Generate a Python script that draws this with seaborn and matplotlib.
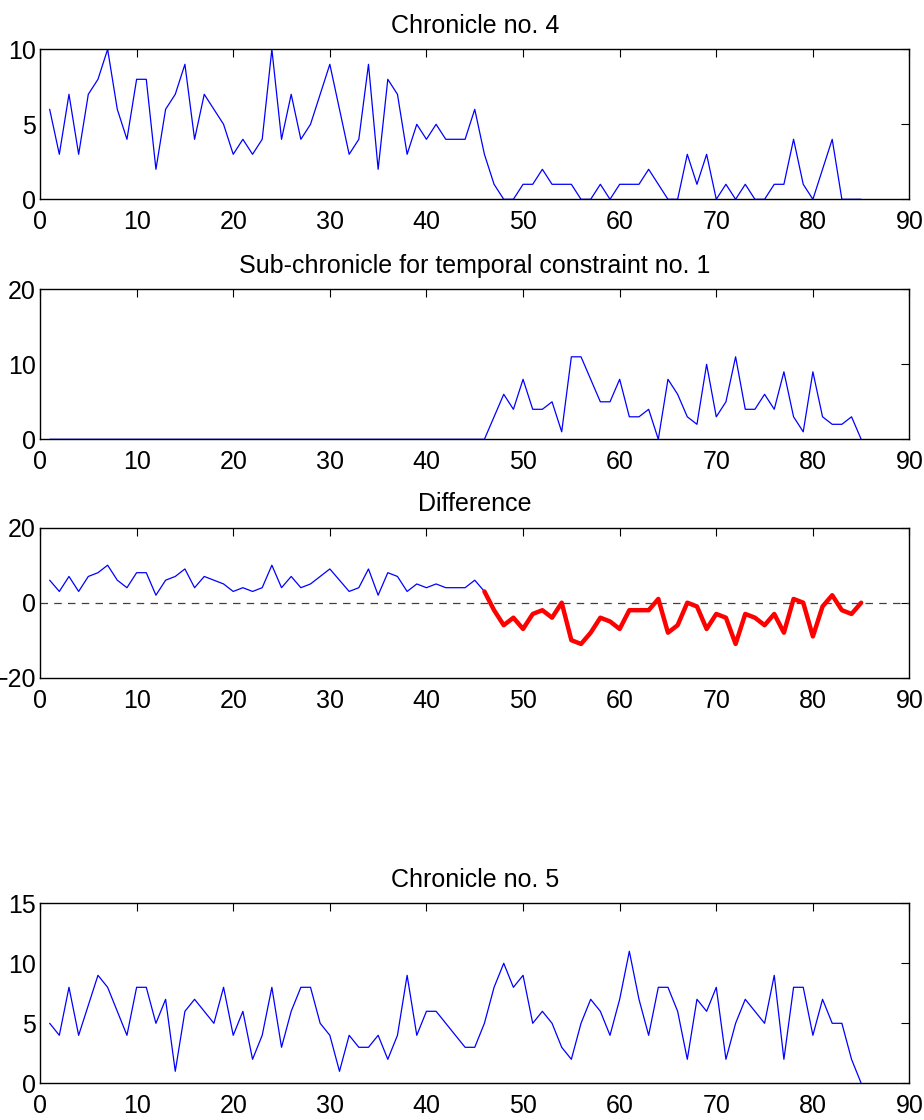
import numpy as np
import pandas as pd
import matplotlib
matplotlib.use("Agg")
import matplotlib.pyplot as plt
import seaborn as sns

sns.set_style("white")
plt.rcParams['font.family'] = ['Liberation Sans', 'DejaVu Sans']
plt.rcParams['text.color'] = 'black'
plt.rcParams['axes.titlecolor'] = 'black'

# ---- data ----
t = list(range(1, 86))

chronicle4 = [6, 3, 7, 3, 7, 8, 10, 6, 4, 8,
              8, 2, 6, 7, 9, 4, 7, 6, 5, 3,
              4, 3, 4, 10, 4, 7, 4, 5, 7, 9,
              6, 3, 4, 9, 2, 8, 7, 3, 5, 4,
              5, 4, 4, 4, 6, 3, 1, 0, 0, 1,
              1, 2, 1, 1, 1, 0, 0, 1, 0, 1,
              1, 1, 2, 1, 0, 0, 3, 1, 3, 0,
              1, 0, 1, 0, 0, 1, 1, 4, 1, 0,
              2, 4, 0, 0, 0]

subchronicle1 = [0] * 46 + [3, 6, 4, 8,
                 4, 4, 5, 1, 11, 11, 8, 5, 5, 8,
                 3, 3, 4, 0, 8, 6, 3, 2, 10, 3,
                 5, 11, 4, 4, 6, 4, 9, 3, 1, 9,
                 3, 2, 2, 3, 0]

chronicle5 = [5, 4, 8, 4, 6.5, 9, 8, 6, 4, 8,
              8, 5, 7, 1, 6, 7, 6, 5, 8, 4,
              6, 2, 4, 8, 3, 6, 8, 8, 5, 4,
              1, 4, 3, 3, 4, 2, 4, 9, 4, 6,
              6, 5, 4, 3, 3, 5, 8, 10, 8, 9,
              5, 6, 5, 3, 2, 5, 7, 6, 4, 7,
              11, 7, 4, 8, 8, 6, 2, 7, 6, 8,
              2, 5, 7, 6, 5, 9, 2, 8, 8, 4,
              7, 5, 5, 2, 0]

split_index = 46  # constraint starts here

titles = ["Chronicle no. 4",
          "Sub-chronicle for temporal constraint no. 1",
          "Difference",
          "Chronicle no. 5"]
xticks = list(range(0, 100, 10))
yticks = [[0, 5, 10], [0, 10, 20], [-20, 0, 20], [0, 5, 10, 15]]
ylims = [(0, 10), (0, 20), (-20, 20), (0, 15)]

difference = [a - b for a, b in zip(chronicle4, subchronicle1)]

# ---- figure ----
W, H = 924, 1120
fig = plt.figure(figsize=(W / 100, H / 100), dpi=100)

def rect(top_px, bottom_px, left_px=40, right_px=909.5):
    return [left_px / W, 1 - bottom_px / H, (right_px - left_px) / W, (bottom_px - top_px) / H]

axes = [fig.add_axes(rect(49.3, 199.3)),
        fig.add_axes(rect(289.3, 439.3)),
        fig.add_axes(rect(527.7, 677.7)),
        fig.add_axes(rect(903.3, 1083.3))]

blue = (0, 0, 1)
fs = 18

df4 = pd.DataFrame({"t": t, "v": chronicle4})
dsub = pd.DataFrame({"t": t, "v": subchronicle1})
ddiff = pd.DataFrame({"t": t, "v": difference})
df5 = pd.DataFrame({"t": t, "v": chronicle5})

sns.lineplot(data=df4, x="t", y="v", ax=axes[0], color=blue, linewidth=0.9,
             estimator=None, sort=False)
sns.lineplot(data=dsub, x="t", y="v", ax=axes[1], color=blue, linewidth=0.9,
             estimator=None, sort=False)

axes[2].axhline(0, color=(0.25, 0.25, 0.25), linewidth=0.9, linestyle=(0, (6, 5)), zorder=1)
sns.lineplot(data=ddiff.iloc[:split_index], x="t", y="v", ax=axes[2], color=blue,
             linewidth=0.9, estimator=None, sort=False)
sns.lineplot(data=ddiff.iloc[split_index - 1:], x="t", y="v", ax=axes[2], color=(1, 0, 0),
             linewidth=3.2, estimator=None, sort=False)

sns.lineplot(data=df5, x="t", y="v", ax=axes[3], color=blue, linewidth=0.9,
             estimator=None, sort=False)

for ax, title, yt, yl in zip(axes, titles, yticks, ylims):
    ax.set_xlim(0, 90)
    ax.set_ylim(*yl)
    ax.set_xticks(xticks)
    ax.set_yticks(yt)
    ax.set_xlabel("")
    ax.set_ylabel("")
    ax.set_title(title, fontsize=fs, pad=12, color="black")
    ax.tick_params(direction="in", length=6, width=0.8, top=True, right=True,
                   labelsize=fs, colors="black")
    ax.tick_params(axis="x", pad=8)
    ax.tick_params(axis="y", pad=3)
    for s in ax.spines.values():
        s.set_visible(True)
        s.set_color("black")
        s.set_linewidth(1.0)
    ax.set_facecolor("white")

fig.savefig("out.png", dpi=100, facecolor="white")
